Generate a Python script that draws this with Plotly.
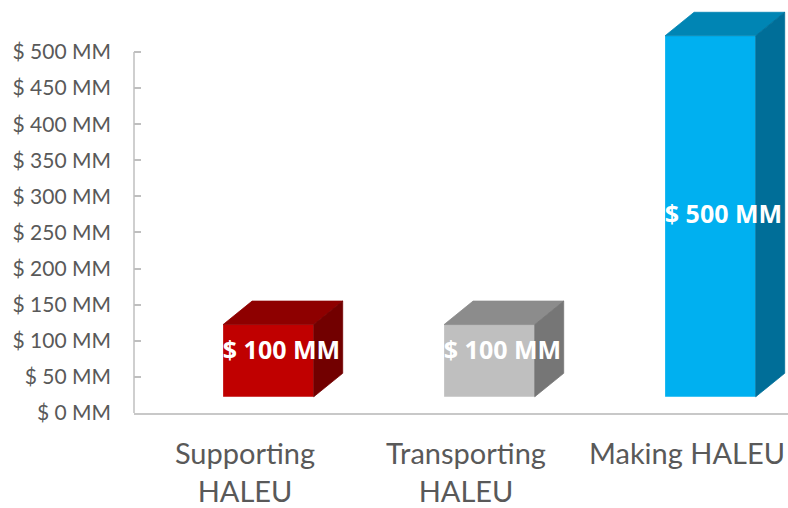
import plotly.graph_objects as go

categories = ["Supporting<br>HALEU", "Transporting<br>HALEU", "Making HALEU"]
values = [100, 100, 500]
labels = ["$ 100 MM", "$ 100 MM", "$ 500 MM"]
front_colors = ["#C00000", "#BFBFBF", "#00B0F0"]
top_colors = ["#8E0000", "#8C8C8C", "#0085B4"]
side_colors = ["#720000", "#767676", "#006E98"]
y_ticks = list(range(0, 501, 50))
y_ticktext = [f"$ {v} MM" for v in y_ticks]

# 3D styling constants (in axis units)
BASE = 22.5      # floor offset of front face
LEFT = -0.099    # front face left edge relative to category
RIGHT = 0.311    # front face right edge relative to category
DX = 0.131       # depth offset x
DY = 32.5        # depth offset y

fig = go.Figure()
xs = list(range(len(categories)))
for i, (c, v) in enumerate(zip(xs, values)):
    fig.add_trace(go.Bar(x=[c], y=[v], base=[BASE], width=[RIGHT - LEFT], offset=LEFT,
                         marker=dict(color=front_colors[i], line=dict(width=0)),
                         hoverinfo="skip", showlegend=False))
    top = BASE + v
    fig.add_trace(go.Scatter(
        x=[c + LEFT, c + RIGHT, c + RIGHT + DX, c + LEFT + DX, c + LEFT],
        y=[top, top, top + DY, top + DY, top],
        fill="toself", fillcolor=top_colors[i], mode="lines",
        line=dict(width=0.8, color=top_colors[i]), hoverinfo="skip", showlegend=False))
    fig.add_trace(go.Scatter(
        x=[c + RIGHT, c + RIGHT + DX, c + RIGHT + DX, c + RIGHT, c + RIGHT],
        y=[BASE, BASE + DY, top + DY, top, BASE],
        fill="toself", fillcolor=side_colors[i], mode="lines",
        line=dict(width=0.8, color=side_colors[i]), hoverinfo="skip", showlegend=False))

# data labels (projected 3D label placement)
fig.add_trace(go.Scatter(
    x=[c + 0.165 for c in xs], y=[BASE + 0.4725 * v + 13.25 for v in values],
    mode="text", text=labels,
    textfont=dict(family="Open Sans", size=25, color="white", weight="bold"),
    hoverinfo="skip", showlegend=False, cliponaxis=True))

fig.add_shape(type="line", xref="paper", yref="y", x0=0, x1=0, y0=0, y1=500,
              line=dict(color="#BFBFBF", width=1.5))

fig.update_layout(
    width=788, height=508,
    margin=dict(l=134, r=0, t=0, b=95, autoexpand=False),
    paper_bgcolor="white", plot_bgcolor="white",
    barmode="overlay",
    xaxis=dict(range=[-0.5023, 2.457], tickvals=xs, ticktext=categories,
               showline=True, linecolor="#C8C8C8", linewidth=2, showgrid=False,
               zeroline=False, ticks="", ticklabelstandoff=14, automargin=False,
               tickfont=dict(family="Lato", size=29, color="#595959")),
    yaxis=dict(range=[0, 572], tickvals=y_ticks, ticktext=y_ticktext,
               showline=False, showgrid=False, zeroline=False, automargin=False,
               ticks="inside", ticklen=7, tickcolor="#BFBFBF", tickwidth=1.5,
               ticklabelstandoff=22,
               tickfont=dict(family="Lato", size=21, color="#595959")),
)

fig.write_html("out.html", config={"displayModeBar": False},
               post_script="document.body.style.margin='0';")
